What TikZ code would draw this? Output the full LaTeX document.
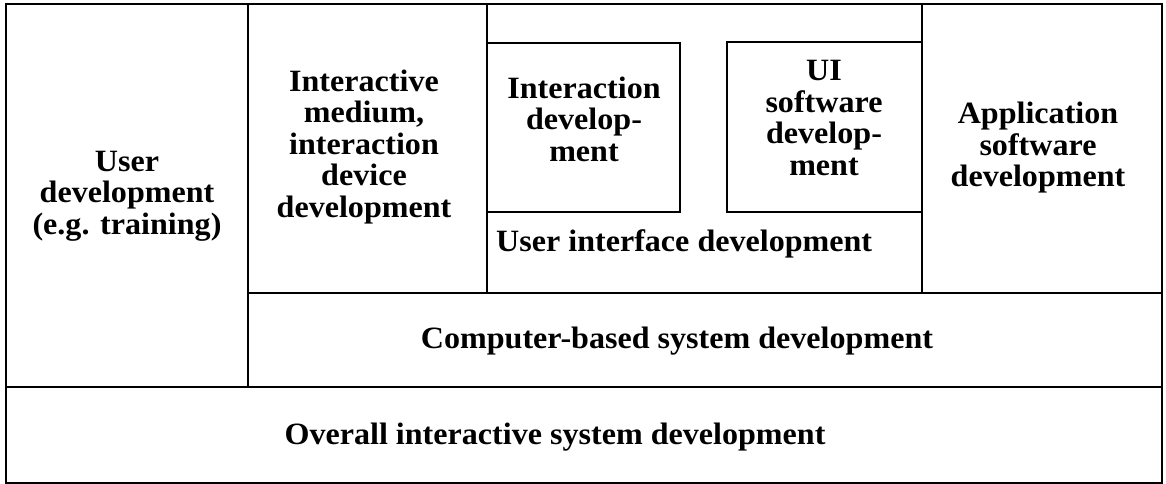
\documentclass[tikz,border=0pt]{standalone}
\usepackage{fontspec}
\setmainfont{Liberation Serif}[FakeStretch=1.035]
\begin{document}
\begin{tikzpicture}[x=1pt,y=-1pt,
  boxline/.style={line width=2.5pt, line cap=rect},
  lbl/.style={font=\fontsize{31}{31.5}\selectfont\bfseries, align=center, inner sep=0pt}]
\useasboundingbox (0,0) rectangle (1166,484);
\fill[white] (0,0) rectangle (1166,484);
% frame and dividers
\draw[boxline] (6,4) rectangle (1162,483);
\draw[boxline] (248,4) -- (248,387);
\draw[boxline] (6,387) -- (1162,387);
\draw[boxline] (248,293) -- (1162,293);
\draw[boxline] (487,4) -- (487,293);
\draw[boxline] (922,4) -- (922,293);
\draw[boxline] (487,43) rectangle (680,212);
\draw[boxline] (727,42) rectangle (922,212);
% labels
\node[lbl] (user) at (127,196) {User\\development\\(e.g. training)};
\node[lbl] (medium) at (364,147) {Interactive\\medium,\\interaction\\device\\development};
\node[lbl] (inter) at (584,119) {Interaction\\develop-\\ment};
\node[lbl] (uisw) at (824,118) {UI\\software\\develop-\\ment};
\node[lbl] (app) at (1038,148) {Application\\software\\development};
\node[lbl, anchor=west] (uid) at (496,244) {User interface development};
\node[lbl] (cbs) at (677,341) {Computer-based system development};
\node[lbl] (overall) at (555,437) {Overall interactive system development};
\end{tikzpicture}
\end{document}
